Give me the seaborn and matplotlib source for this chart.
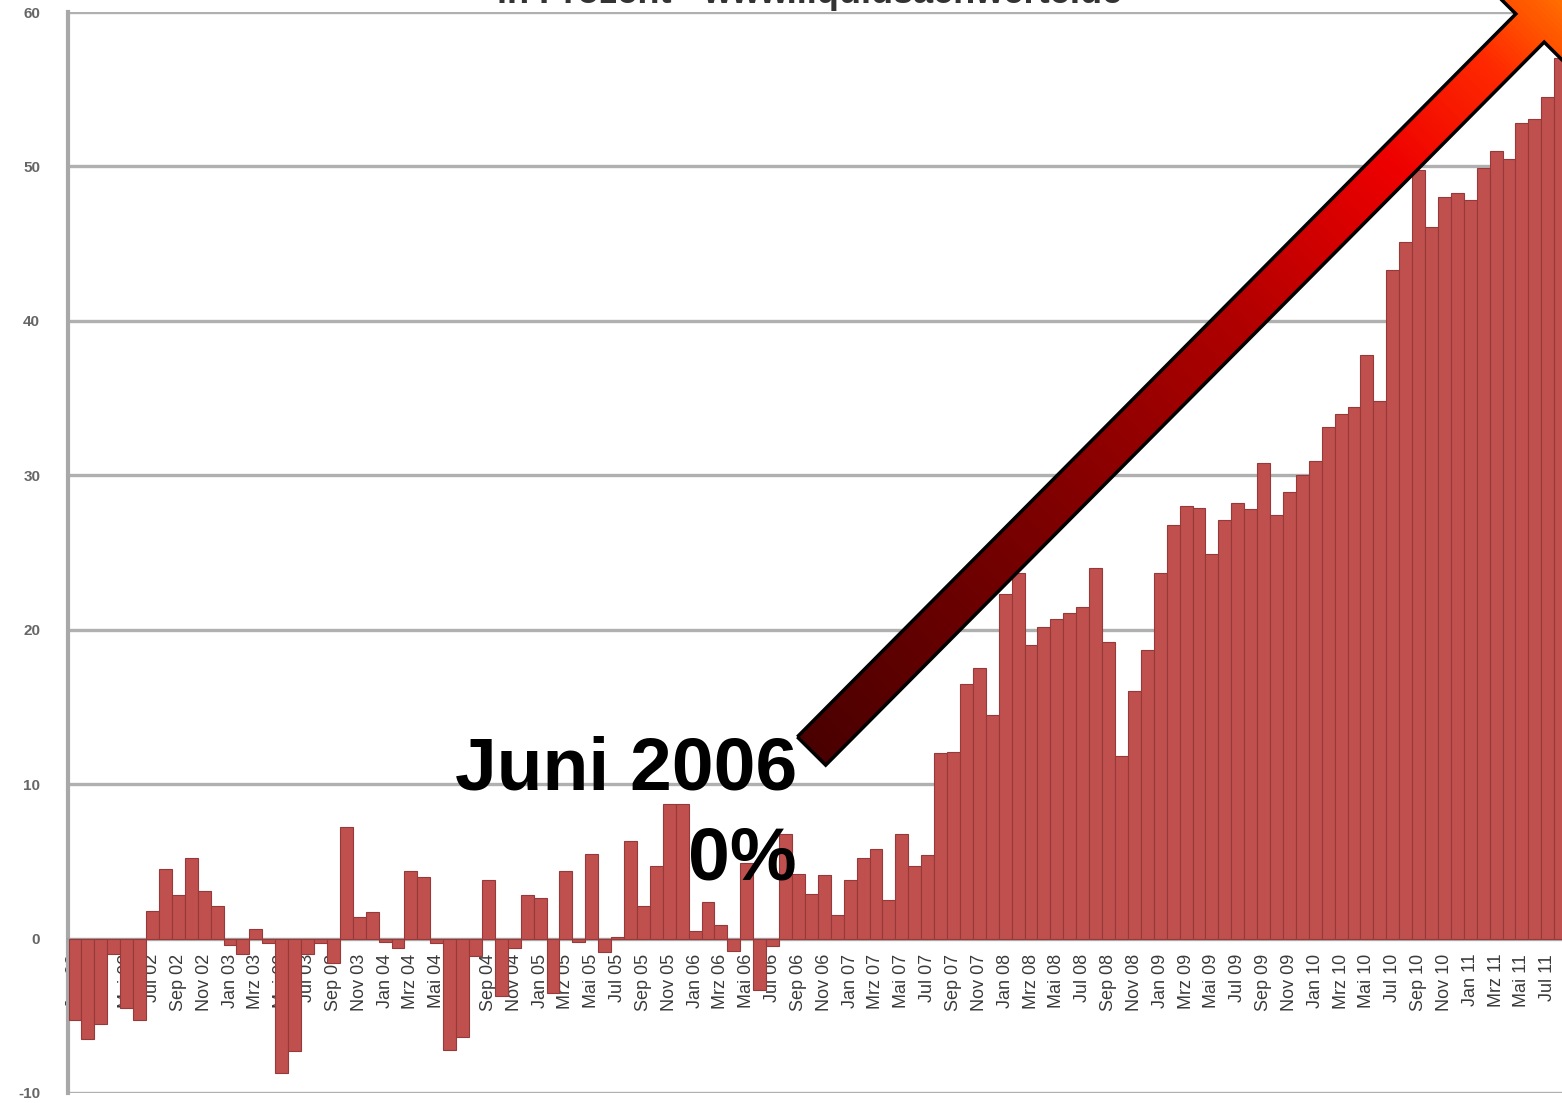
import numpy as np
import pandas as pd
import matplotlib
matplotlib.use("Agg")
import matplotlib.pyplot as plt
import seaborn as sns
from matplotlib.colors import LinearSegmentedColormap
from matplotlib.patches import Polygon

# ---------------- data ----------------
months_de = ["Jan", "Feb", "Mrz", "Apr", "Mai", "Jun", "Jul", "Aug", "Sep", "Okt", "Nov", "Dez"]
years = ["02", "03", "04", "05", "06", "07", "08", "09", "10", "11"]

v2002 = [-5.3, -6.5, -5.5, -1.0, -4.5, -5.3, 1.8, 4.5, 2.8, 5.2, 3.1, 2.1]
v2003 = [-0.4, -1.0, 0.6, -0.3, -8.7, -7.3, -1.0, -0.3, -1.6, 7.2, 1.4, 1.7]
v2004 = [-0.2, -0.6, 4.4, 4.0, -0.3, -7.2, -6.4, -1.1, 3.8, -3.7, -0.6, 2.8]
v2005 = [2.6, -3.5, 4.4, -0.2, 5.5, -0.9, 0.1, 6.3, 2.1, 4.7, 8.7, 8.7]
v2006 = [0.5, 2.4, 0.9, -0.8, 4.9, -3.3, -0.5, 6.8, 4.2, 2.9, 4.1, 1.5]
v2007 = [3.8, 5.2, 5.8, 2.5, 6.8, 4.7, 5.4, 12.0, 12.1, 16.5, 17.5, 14.5]
v2008 = [22.3, 23.7, 19.0, 20.2, 20.7, 21.1, 21.5, 24.0, 19.2, 11.8, 16.0, 18.7]
v2009 = [23.7, 26.8, 28.0, 27.9, 24.9, 27.1, 28.2, 27.8, 30.8, 27.4, 28.9, 30.0]
v2010 = [30.9, 33.1, 34.0, 34.4, 37.8, 34.8, 43.3, 45.1, 49.8, 46.1, 48.0, 48.3]
v2011 = [47.8, 49.9, 51.0, 50.5, 52.8, 53.1, 54.5, 57.0]

values = v2002 + v2003 + v2004 + v2005 + v2006 + v2007 + v2008 + v2009 + v2010 + v2011
categories = [f"{m} {y}" for y in years for m in months_de][:len(values)]
tick_labels = categories[::2]

title_text = "in Prozent - www.liquidsachwerte.de"
note_line1 = "Juni 2006"
note_line2 = "0%"

# ---------------- style ----------------
sns.set_theme(style="white")
plt.rcParams["font.family"] = ["Liberation Sans", "DejaVu Sans"]
plt.rcParams["axes.unicode_minus"] = False

W, H = 1562, 1103
fig = plt.figure(figsize=(W / 100, H / 100), dpi=100, facecolor="white")
ax = fig.add_axes([68 / W, 10 / H, 1 - 68 / W, 1081 / H])
ax.set_facecolor("white")

df = pd.DataFrame({"Monat": categories, "Wert": values})
sns.barplot(data=df, x="Monat", y="Wert", color="#C0504D", saturation=1,
            width=1.0, edgecolor="#96393A", linewidth=0.8, ax=ax, zorder=3)

ax.set_xlim(-0.54, 115.1)
ax.set_ylim(-10, 60)
ax.set_yticks(range(-10, 61, 10))
ax.set_axisbelow(True)
ax.yaxis.grid(True, color="#b0b0b0", linewidth=2.4)
ax.xaxis.grid(False)

ax.spines["bottom"].set_position(("data", 0))
ax.spines["bottom"].set_color("#a0a0a0")
ax.spines["bottom"].set_linewidth(1.5)
ax.spines["right"].set_visible(False)
ax.spines["top"].set_visible(False)
ax.spines["left"].set_color("#a8a8a8")
ax.spines["left"].set_linewidth(3)

ax.set_xticks(range(0, len(values), 2))
ax.set_xticklabels(tick_labels, rotation=90, fontsize=13, color="#3a3a3a")
ax.tick_params(axis="x", length=0, pad=11)
ax.tick_params(axis="y", length=0, pad=20, labelsize=11, labelcolor="#666666")
for lab in ax.get_yticklabels():
    lab.set_fontweight("bold")
ax.set_xlabel("")
ax.set_ylabel("")

# title, cut off at the very top as in the reference
fig.text(810 / W, 1 - 3 / H, title_text, ha="center", va="baseline",
         fontsize=26, fontweight="bold", color="#333333")

# annotation text
fig.text(797 / W, 1 - 790 / H, note_line1, ha="right", va="baseline",
         fontsize=54, fontweight="bold", color="black")
fig.text(797 / W, 1 - 880 / H, note_line2, ha="right", va="baseline",
         fontsize=54, fontweight="bold", color="black")

# ---------------- gradient arrow overlay ----------------
ov = fig.add_axes([0, 0, 1, 1], zorder=10)
ov.set_xlim(0, W)
ov.set_ylim(H, 0)
ov.axis("off")
ov.patch.set_alpha(0)

tail = np.array([811.5, 751.0])
base = np.array([1530.0, 28.0])
u = (base - tail) / np.linalg.norm(base - tail)
nvec = np.array([-u[1], u[0]])
hw, hh, hl = 20.0, 52.0, 80.0
tip = base + hl * u
verts = np.array([
    tail - hw * nvec,
    base - hw * nvec,
    base - hh * nvec,
    tip,
    base + hh * nvec,
    base + hw * nvec,
    tail + hw * nvec,
])
L = np.linalg.norm(tip - tail)
xx, yy = np.meshgrid(np.arange(W) + 0.5, np.arange(H) + 0.5)
t = ((xx - tail[0]) * u[0] + (yy - tail[1]) * u[1]) / L
t = np.clip(t, 0, 1)
cmap = LinearSegmentedColormap.from_list("arrow", [
    (0.0, "#4a0000"), (0.3, "#7d0000"), (0.55, "#b00000"),
    (0.75, "#ee0000"), (0.88, "#ff2a00"), (0.95, "#ff6000"), (1.0, "#ff8a00")])
im = ov.imshow(t, cmap=cmap, vmin=0, vmax=1, extent=(0, W, H, 0),
               origin="upper", interpolation="bilinear", aspect="auto")
clip = Polygon(verts, closed=True, transform=ov.transData, facecolor="none", edgecolor="none")
ov.add_patch(clip)
im.set_clip_path(clip)
outline = Polygon(verts, closed=True, facecolor="none", edgecolor="black",
                  linewidth=2.5, joinstyle="miter")
ov.add_patch(outline)
ov.set_xlim(0, W)
ov.set_ylim(H, 0)

fig.savefig("out.png", dpi=100, facecolor="white")
